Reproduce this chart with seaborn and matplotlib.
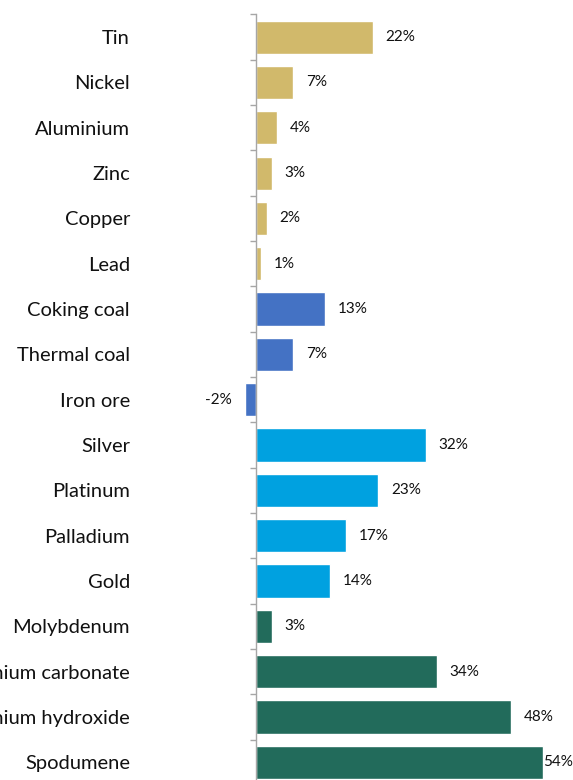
import matplotlib
matplotlib.use("Agg")
import matplotlib.pyplot as plt
import seaborn as sns
import pandas as pd

# data
commodities = ["Tin", "Nickel", "Aluminium", "Zinc", "Copper", "Lead",
               "Coking coal", "Thermal coal", "Iron ore",
               "Silver", "Platinum", "Palladium", "Gold",
               "Molybdenum", "Lithium carbonate", "Lithium hydroxide", "Spodumene"]
changes = [22, 7, 4, 3, 2, 1,
           13, 7, -2,
           32, 23, 17, 14,
           3, 34, 48, 54]
groups = ["base"] * 6 + ["bulk"] * 3 + ["precious"] * 4 + ["battery"] * 4

palette = {"base": "#D1B96B", "bulk": "#4472C4",
           "precious": "#00A1E0", "battery": "#226B5B"}

df = pd.DataFrame({"commodity": commodities, "change": changes, "group": groups})

sns.set_style("white")
plt.rcParams["font.family"] = ["Lato", "DejaVu Sans"]

fig = plt.figure(figsize=(5.73, 7.8), dpi=100)
# axes cropped like the source: left labels and bottom run off the canvas
ax = fig.add_axes([200 / 573, -5 / 780, 373 / 573, 770.6 / 780])

sns.barplot(data=df, x="change", y="commodity", hue="group", palette=palette,
            dodge=False, legend=False, width=0.73, orient="h", ax=ax,
            saturation=1)

ax.set_xlim(-10.55, 59.7)
ax.set_ylim(len(commodities) - 0.5, -0.5)

for s in ["top", "right", "bottom"]:
    ax.spines[s].set_visible(False)
ax.spines["left"].set_position(("data", 0))
ax.spines["left"].set_color("#A6A6A6")
ax.spines["left"].set_linewidth(1.0)

ax.set_xticks([])
ax.set_xlabel("")
ax.set_ylabel("")
ax.set_yticks(range(len(commodities)))
ax.set_yticklabels(commodities)
ax.set_yticks([i - 0.5 for i in range(len(commodities) + 1)], minor=True)
ax.tick_params(axis="y", which="major", left=True, length=0, pad=90.7,
               labelsize=14.5, labelcolor="#111111")
ax.tick_params(axis="y", which="minor", left=True, length=4.3, width=1.0,
               color="#A6A6A6", direction="out")

for i, v in enumerate(changes):
    if v < 0:
        ax.text(v - 2.6, i, f"{v}%", va="center", ha="right",
                fontsize=11, color="#111111")
    else:
        x = v + 2.4
        if x > 54.5:
            # no room at the right edge: sit the label against the bar
            x = v + 0.1
        ax.text(x, i, f"{v}%", va="center", ha="left",
                fontsize=11, color="#111111")

fig.savefig("out.png", dpi=100)
